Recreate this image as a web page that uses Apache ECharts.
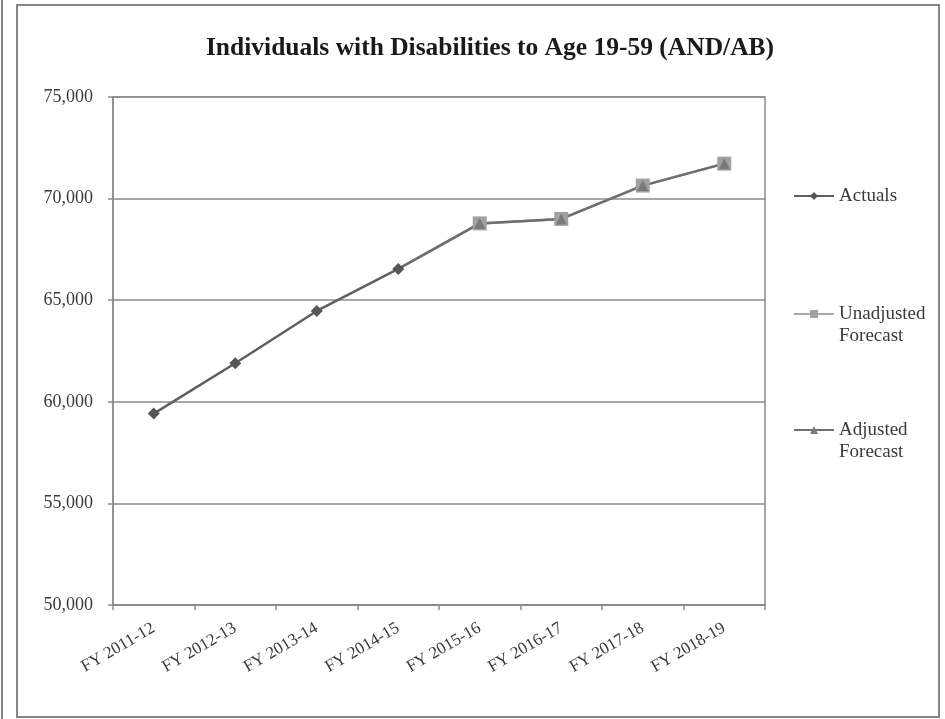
<!DOCTYPE html>
<html>
<head>
<meta charset="utf-8">
<title>Individuals with Disabilities to Age 19-59 (AND/AB)</title>
<script src="https://cdn.jsdelivr.net/npm/echarts@6/dist/echarts.min.js"></script>
<style>
  html, body { margin: 0; padding: 0; background: #ffffff; }
  #chart { width: 945px; height: 719px; }
</style>
</head>
<body>
<div id="chart"></div>
<script>
// Fiscal-year categories
const fiscalYears = ['FY 2011-12', 'FY 2012-13', 'FY 2013-14', 'FY 2014-15',
                     'FY 2015-16', 'FY 2016-17', 'FY 2017-18', 'FY 2018-19'];

// Caseload values (null where a series has no point)
const actuals            = [59420, 61900, 64470, 66540, null, null, null, null];
const unadjustedForecast = [null, null, null, 66540, 68780, 69000, 70640, 71720];
const adjustedForecast   = [null, null, null, 66540, 68780, 69000, 70640, 71720];

// Value axis range
const yMin = 50000, yMax = 75000, yStep = 5000;

const serif = '"Liberation Serif", "Times New Roman", serif';

// The forecast lines start at the last actual point, drawn without a marker there
function forecastData(values) {
  return values.map((v, i) => {
    if (v === null) return null;
    if (i > 0 && values[i - 1] === null) return { value: v, symbol: 'none' };
    return v;
  });
}

const chart = echarts.init(document.getElementById('chart'), null, { renderer: 'canvas' });

function legendAt(name, top, label) {
  return {
    data: [name],
    orient: 'vertical',
    left: 788,
    top: top,
    itemWidth: 40,
    itemHeight: 10,
    itemGap: 4,
    selectedMode: false,
    formatter: () => label,
    textStyle: { fontFamily: serif, fontSize: 19, color: '#3a3a3a', lineHeight: 22 }
  };
}

chart.setOption({
  backgroundColor: '#ffffff',
  animation: false,
  title: {
    text: 'Individuals with Disabilities to Age 19-59 (AND/AB)',
    left: 485,
    top: 30,
    textAlign: 'center',
    textStyle: { fontFamily: serif, fontWeight: 'bold', fontSize: 25.5, color: '#1a1a1a' }
  },
  legend: [
    legendAt('Actuals', 180, 'Actuals'),
    legendAt('Unadjusted Forecast', 276, '\nUnadjusted\nForecast'),
    legendAt('Adjusted Forecast', 392, '\nAdjusted\nForecast')
  ],
  grid: {
    left: 113, right: 180, top: 97, bottom: 114,
    show: true, borderColor: '#8a8a8a', borderWidth: 1.5, backgroundColor: 'transparent'
  },
  xAxis: {
    type: 'category',
    data: fiscalYears,
    boundaryGap: true,
    axisLine: { lineStyle: { color: '#8a8a8a', width: 1.5 } },
    axisTick: { show: true, length: 5, alignWithLabel: false, lineStyle: { color: '#8a8a8a', width: 1.5 } },
    axisLabel: {
      rotate: 30, margin: 22, interval: 0,
      fontFamily: serif, fontSize: 17, color: '#3a3a3a'
    },
    splitLine: { show: false }
  },
  yAxis: {
    type: 'value',
    min: yMin, max: yMax, interval: yStep,
    axisLine: { show: true, lineStyle: { color: '#8a8a8a', width: 1.5 } },
    axisTick: { show: true, length: 5, lineStyle: { color: '#8a8a8a', width: 1.5 } },
    axisLabel: {
      margin: 20,
      fontFamily: serif, fontSize: 18, color: '#3a3a3a',
      formatter: v => v.toLocaleString('en-US')
    },
    splitLine: { lineStyle: { color: '#8a8a8a', width: 1.5 } }
  },
  series: [
    {
      name: 'Actuals',
      type: 'line',
      data: actuals,
      symbol: 'diamond',
      symbolSize: 12,
      lineStyle: { color: '#5f5f5f', width: 2.5 },
      itemStyle: { color: '#555555' },
      z: 3
    },
    {
      name: 'Unadjusted Forecast',
      type: 'line',
      data: forecastData(unadjustedForecast),
      symbol: 'rect',
      symbolSize: 14,
      lineStyle: { color: '#a8a8a8', width: 2.5 },
      itemStyle: { color: '#a0a0a0' },
      z: 2
    },
    {
      name: 'Adjusted Forecast',
      type: 'line',
      data: forecastData(adjustedForecast),
      symbol: 'triangle',
      symbolSize: 11,
      lineStyle: { color: '#6e6e6e', width: 2.5 },
      itemStyle: { color: '#7a7a7a' },
      z: 2
    }
  ],
  graphic: [
    {
      type: 'rect',
      shape: { x: 17, y: 5, width: 922, height: 712 },
      style: { fill: null, stroke: '#858585', lineWidth: 2 },
      silent: true
    },
    {
      type: 'line',
      shape: { x1: 2, y1: 0, x2: 2, y2: 719 },
      style: { stroke: '#858585', lineWidth: 2 },
      silent: true
    }
  ]
});
</script>
</body>
</html>
